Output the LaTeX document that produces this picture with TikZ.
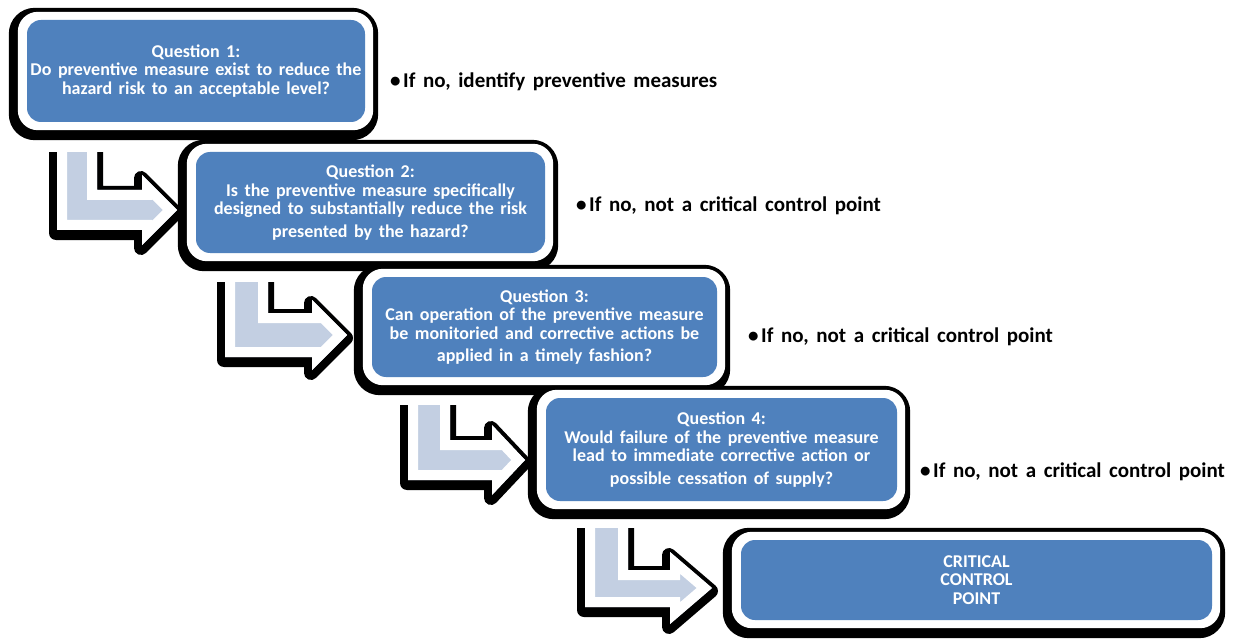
\documentclass[tikz,border=0pt]{standalone}
\usepackage{fontspec}
\setmainfont{Carlito}
\newfontfamily\carlfont{Carlito}[WordSpace=1.3]
\newfontfamily\lblfont{Carlito}[WordSpace=1.6]
\usetikzlibrary{calc}
\definecolor{qblue}{HTML}{4F81BD}
\definecolor{lblue}{HTML}{C3CFE2}
\pgfdeclarelayer{arr}
\pgfdeclarelayer{shd}
\pgfsetlayers{arr,shd,main}
\newcommand\bentarrow[2]{%
  \begin{scope}
    \clip (0,#1) rectangle (1234,639);
    \fill[black,shift={(-1,3)}] #2;
    \draw[black,line width=14pt,line join=round,shift={(-1,3)}] #2;
    \fill[lblue] #2;
    \begin{scope}
      \clip #2;
      \draw[white,line width=20pt,line join=miter] #2;
    \end{scope}
  \end{scope}}
\newcommand\bul{\rlap{•}\hspace{13pt}}
\begin{document}
\begin{tikzpicture}[x=1pt,y=-1pt,
  qbox/.style={fill=qblue,rounded corners=14pt,text=white,align=center,inner sep=0pt,
    font=\carlfont\bfseries\fontsize{18}{18.5}\selectfont},
  lbl/.style={anchor=base west,inner sep=0pt,text=black,
    font=\lblfont\bfseries\fontsize{21}{22}\selectfont}]
\useasboundingbox (0,0) rectangle (1234,639);

% question boxes
\node[qbox,minimum width=338,minimum height=102] (q1) at (196,71)
  {Question 1:\\Do preventive measure exist to reduce the\\hazard risk to an acceptable level?};
\node[qbox,minimum width=349,minimum height=101] (q2) at (370.5,202.5)
  {Question 2:\\Is the preventive measure specifically\\designed to substantially reduce the risk\\[4pt]presented by the hazard?};
\node[qbox,minimum width=345,minimum height=100] (q3) at (544.5,327)
  {Question 3:\\Can operation of the preventive measure\\be monitoried and corrective actions be\\[4pt]applied in a timely fashion?};
\node[qbox,minimum width=351,minimum height=103] (q4) at (721.5,449.5)
  {Question 4:\\Would failure of the preventive measure\\lead to immediate corrective action or\\[4pt]possible cessation of supply?};
\node[qbox,minimum width=471,minimum height=80] (q5) at (976.5,580)
  {CRITICAL\\CONTROL\\POINT};

% white frames with black shadows
\begin{pgfonlayer}{shd}
\foreach \n in {q1,q2,q3,q4,q5}{
  \fill[black,rounded corners=26pt] ($(\n.south west)+(-18,18)$) rectangle ($(\n.north east)+(13,-12)$);
  \fill[white,rounded corners=20pt] ($(\n.south west)+(-9,8)$) rectangle ($(\n.north east)+(8,-8)$);
}
\end{pgfonlayer}

% bent arrows
\begin{pgfonlayer}{arr}
\bentarrow{153}{(57,120) -- (97,120) -- (97,190) -- (142,190) -- (142,175) -- (177,210) -- (142,245) -- (142,230) -- (57,230) -- cycle}
\bentarrow{282}{(225,250) -- (268,250) -- (268,313) -- (312,313) -- (312,300) -- (347,335) -- (312,370) -- (312,357) -- (225,357) -- cycle}
\bentarrow{405}{(408,370) -- (450,370) -- (450,440) -- (492,440) -- (492,425) -- (525,460) -- (492,495) -- (492,480) -- (408,480) -- cycle}
\bentarrow{528}{(585,500) -- (628,500) -- (628,570) -- (670,570) -- (670,552) -- (712,588) -- (670,624) -- (670,607) -- (585,607) -- cycle}
\end{pgfonlayer}

% side labels
\node[lbl] (l1) at (390,88) {\bul If no, identify preventive measures};
\node[lbl] (l2) at (576,212) {\bul If no, not a critical control point};
\node[lbl] (l3) at (748,342) {\bul If no, not a critical control point};
\node[lbl] (l4) at (920,477) {\bul If no, not a critical control point};
\end{tikzpicture}
\end{document}
